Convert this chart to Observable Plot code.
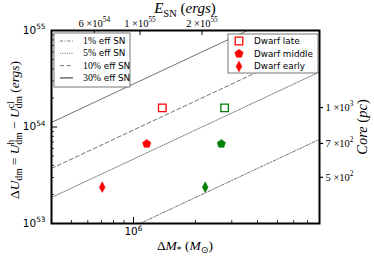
<!DOCTYPE html>
<html><head><meta charset="utf-8">
<script src="https://cdn.jsdelivr.net/npm/d3@7"></script>
<script src="https://cdn.jsdelivr.net/npm/@observablehq/plot@0.6"></script>
<style>body{margin:0;background:#fff}</style>
</head><body><div id="chart"></div>
<script>
// ---- data ----
const effLevels = [0.01, 0.05, 0.10, 0.30];
const effNames = ["1%", "5%", "10%", "30%"];
const energyPerMass = 9.3e48;          // E_SN = energyPerMass * ΔM*
const massRange = [4e5, 8e6];
const pointGroup = ["Dwarf late", "Dwarf late", "Dwarf middle", "Dwarf middle", "Dwarf early", "Dwarf early"];
const pointMass = [1.38e6, 2.77e6, 1.16e6, 2.67e6, 7.05e5, 2.23e6];
const pointDU = [1.58e54, 1.58e54, 6.7e53, 6.7e53, 2.38e53, 2.38e53];
const pointColor = ["red", "green", "red", "green", "red", "green"];
const groupNames = ["Dwarf late", "Dwarf middle", "Dwarf early"];
const yMajor = [1e53, 1e54, 1e55];
const yMajorLabels = ["10^{53}", "10^{54}", "10^{55}"];
const xMajor = [1e6];
const xMajorLabels = ["10^{6}"];
const eTicks = [6e54, 1e55, 2e55];
const eTickLabels = ["6 ×10^{54}", "1 ×10^{55}", "2 ×10^{55}"];
const coreTicks = [500, 700, 1000];
const coreTickLabels = ["5 ×10^{2}", "7 ×10^{2}", "1 ×10^{3}"];
const coreRange = [316, 2150];

// ---- derived tables ----
const points = pointMass.map((m, i) => ({M: m, U: pointDU[i], group: pointGroup[i], color: pointColor[i]}));
const effLines = effLevels.flatMap((e, i) => massRange.map(m => ({M: m, U: e * energyPerMass * m, eff: effNames[i]})));
const yMinor = [];
for (const dec of [1e53, 1e54]) for (let k = 2; k <= 9; k++) yMinor.push(k * dec);
const xMinor = [5e5, 6e5, 7e5, 8e5, 9e5, 2e6, 3e6, 4e6, 5e6, 6e6, 7e6];
const eTickMass = eTicks.map(e => e / energyPerMass);
const lc0 = Math.log10(coreRange[0]), lc1 = Math.log10(coreRange[1]);
const coreToU = c => Math.pow(10, 53 + 2 * (Math.log10(c) - lc0) / (lc1 - lc0));
const coreTickU = coreTicks.map(coreToU);
const eTable = eTickMass.map((m, i) => ({M: m, label: eTickLabels[i]}));
const coreTable = coreTickU.map((u, i) => ({U: u, label: coreTickLabels[i]}));
const yTable = yMajor.map((u, i) => ({U: u, label: yMajorLabels[i]}));
const xTable = xMajor.map((m, i) => ({M: m, label: xMajorLabels[i]}));

// ---- custom symbols ----
const pentagon = {draw(ctx, size) { const r = Math.sqrt(size / Math.PI);
  for (let i = 0; i < 5; i++) { const a = -Math.PI / 2 + i * 2 * Math.PI / 5; const x = r * Math.cos(a), y = r * Math.sin(a); i ? ctx.lineTo(x, y) : ctx.moveTo(x, y); } ctx.closePath(); }};
const thinDiamond = {draw(ctx, size) { const r = Math.sqrt(size / Math.PI);
  ctx.moveTo(0, -r); ctx.lineTo(r * 0.55, 0); ctx.lineTo(0, r); ctx.lineTo(-r * 0.55, 0); ctx.closePath(); }};
const squareSym = {draw(ctx, size) { const r = Math.sqrt(size / Math.PI) * 0.88; ctx.rect(-r, -r, 2 * r, 2 * r); }};

const W = 374, H = 259, mL = 51, mR = 55, mT = 30, mB = 36;
const pw = W - mL - mR, ph = H - mT - mB;
const dashes = {"1%": "3,1.6,1,1.6", "5%": "1,1.3", "10%": "4,2.6", "30%": null};
const grey = "#737373";

const marks = [];
for (const name of effNames) {
  marks.push(Plot.line(effLines.filter(d => d.eff === name), {x: "M", y: "U", stroke: grey, strokeWidth: 1, strokeDasharray: dashes[name], clip: true}));
}
marks.push(
  Plot.dot(points.filter(d => d.group === "Dwarf late"), {x: "M", y: "U", symbol: squareSym, r: 4.3, stroke: "color", fill: "white", strokeWidth: 1.3}),
  Plot.dot(points.filter(d => d.group === "Dwarf middle"), {x: "M", y: "U", symbol: pentagon, r: 4.4, fill: "color", stroke: "color", strokeWidth: 0.5}),
  Plot.dot(points.filter(d => d.group === "Dwarf early"), {x: "M", y: "U", symbol: thinDiamond, r: 5.3, fill: "color", stroke: "color", strokeWidth: 0.5}),
  // inward ticks
  Plot.ruleY(yMajor, {insetRight: pw - 6, stroke: "black", strokeWidth: 1}),
  Plot.ruleY(yMinor, {insetRight: pw - 3, stroke: "black", strokeWidth: 0.8}),
  Plot.ruleX(xMajor, {insetTop: ph - 6, stroke: "black", strokeWidth: 1}),
  Plot.ruleX(xMinor, {insetTop: ph - 3, stroke: "black", strokeWidth: 0.8}),
  Plot.ruleX(eTickMass, {insetBottom: ph - 5, stroke: "black", strokeWidth: 1}),
  // outward ticks on the right (core) axis
  Plot.ruleY(coreTickU, {insetLeft: pw, insetRight: -4, stroke: "black", strokeWidth: 1.2}),
  // tick labels
  Plot.text(yTable, {y: "U", text: "label", frameAnchor: "left", dx: -6, textAnchor: "end", fontSize: 10.5, fontFamily: "DejaVu Sans"}),
  Plot.text(xTable, {x: "M", text: "label", frameAnchor: "bottom", dy: 4, lineAnchor: "top", fontSize: 10.5, fontFamily: "DejaVu Sans"}),
  Plot.text(eTable, {x: "M", text: "label", frameAnchor: "top", dy: -4, lineAnchor: "bottom", fontSize: 10.5, fontFamily: "Liberation Serif"}),
  Plot.text(coreTable, {y: "U", text: "label", frameAnchor: "right", dx: 6, textAnchor: "start", fontSize: 10.5, fontFamily: "Liberation Serif"}),
  Plot.frame({stroke: "black", strokeWidth: 2})
);

const chart = Plot.plot({
  width: W, height: H, marginLeft: mL, marginRight: mR, marginTop: mT, marginBottom: mB,
  style: {background: "white", color: "black", overflow: "visible"},
  x: {type: "log", domain: massRange, axis: null},
  y: {type: "log", domain: [1e53, 1e55], axis: null},
  color: {type: "identity"},
  marks
});
document.getElementById("chart").appendChild(chart);
const svg = d3.select(chart);

// rich text helpers
function richify(textEl) {
  const s = textEl.textContent;
  if (!/[\^_]\{/.test(s)) return;
  const size = parseFloat(getComputedStyle(textEl).fontSize) || 10;
  const t = d3.select(textEl); t.text(null);
  const re = /([\^_])\{([^}]*)\}/g; let last = 0, m, cur = 0;
  const add = (str, pos) => {
    const target = pos === "^" ? -0.42 * size : pos === "_" ? 0.25 * size : 0;
    const ts = t.append("tspan").text(str).attr("dy", target - cur); cur = target;
    if (pos) ts.attr("font-size", size * 0.7);
  };
  while ((m = re.exec(s))) { if (m.index > last) add(s.slice(last, m.index), null); add(m[2], m[1]); last = re.lastIndex; }
  if (last < s.length) add(s.slice(last), null);
}
svg.selectAll("text").each(function() { richify(this); });

function addRich(segs, {x, y, size, anchor = "middle", rotate = 0, family = "Liberation Serif"}) {
  const t = svg.append("text").attr("font-family", family).attr("font-size", size).attr("text-anchor", anchor).attr("fill", "black");
  if (rotate) t.attr("transform", `translate(${x},${y}) rotate(${rotate})`); else t.attr("x", x).attr("y", y);
  let cur = 0, prevSup = null;
  for (const s of segs) {
    const pos = s.pos || "base";
    const target = pos === "sup" ? -0.4 * size : pos === "sub" ? 0.25 * size : 0;
    const ts = t.append("tspan").text(s.t).attr("dy", target - cur); cur = target;
    if (pos !== "base") ts.attr("font-size", size * 0.7);
    if (s.i) ts.attr("font-style", "italic");
    if (s.f) ts.attr("font-family", s.f);
    if (s.back && prevSup) ts.attr("dx", -prevSup.getComputedTextLength());
    prevSup = pos === "sup" ? ts.node() : null;
  }
  return t;
}

// axis titles
addRich([{t: "E", i: 1}, {t: "SN", pos: "sub"}, {t: " ("}, {t: "ergs", i: 1}, {t: ")"}], {x: 185, y: 13, size: 15});
addRich([{t: "Δ"}, {t: "M", i: 1}, {t: "*", pos: "sub"}, {t: " ("}, {t: "M", i: 1}, {t: "⊙", pos: "sub", f: "DejaVu Sans"}, {t: ")"}], {x: 185, y: 250, size: 13.5});
addRich([{t: "Δ"}, {t: "U", i: 1}, {t: "dm", pos: "sub"}, {t: " = "}, {t: "U", i: 1}, {t: "h", pos: "sup"}, {t: "dm", pos: "sub", back: 1},
  {t: " − "}, {t: "U", i: 1}, {t: "cl", pos: "sup"}, {t: "dm", pos: "sub", back: 1}, {t: " ("}, {t: "ergs", i: 1}, {t: ")"}],
  {x: 19, y: 130, size: 13.5, rotate: -90});
addRich([{t: "Core", i: 1}, {t: " ("}, {t: "pc", i: 1}, {t: ")"}], {x: 367, y: 127, size: 14.5, rotate: -90});

// legend 1 (efficiency lines)
const lg1 = svg.append("g").attr("text-anchor", "start");
lg1.append("rect").attr("x", 54).attr("y", 33).attr("width", 76).attr("height", 54).attr("fill", "white").attr("stroke", "#555").attr("stroke-width", 0.8);
effNames.forEach((name, i) => {
  const y = 41 + i * 12.3;
  lg1.append("line").attr("x1", 60).attr("x2", 73).attr("y1", y).attr("y2", y).attr("stroke", grey).attr("stroke-width", name === "30%" ? 1.6 : 1).attr("stroke-dasharray", dashes[name]);
  const t = lg1.append("text").attr("x", 83).attr("y", y + 3).attr("font-size", 8.8).attr("fill", "black").attr("text-anchor", "start");
  t.append("tspan").attr("font-family", "Liberation Serif").attr("font-size", 9.8).text(name);
  t.append("tspan").attr("font-family", "DejaVu Sans").text(" eff SN");
});

// legend 2 (dwarf samples)
const lg2 = svg.append("g").attr("text-anchor", "start");
lg2.append("rect").attr("x", 228).attr("y", 34).attr("width", 90).attr("height", 39).attr("fill", "white").attr("stroke", "#555").attr("stroke-width", 0.8);
const legSyms = [[squareSym, 4.3, false], [pentagon, 4.4, true], [thinDiamond, 5.3, true]];
groupNames.forEach((g, i) => {
  const y = 41 + i * 12.7;
  const [sym, r, filled] = legSyms[i];
  lg2.append("path").attr("transform", `translate(239,${y})`).attr("d", d3.symbol(sym, r * r * Math.PI)())
    .attr("fill", filled ? "red" : "white").attr("stroke", "red").attr("stroke-width", filled ? 0.5 : 1.3);
  lg2.append("text").attr("x", 254).attr("y", y + 3).attr("font-size", 8.8).attr("font-family", "DejaVu Sans").attr("fill", "black").attr("text-anchor", "start").text(g);
});
</script>
</body></html>
